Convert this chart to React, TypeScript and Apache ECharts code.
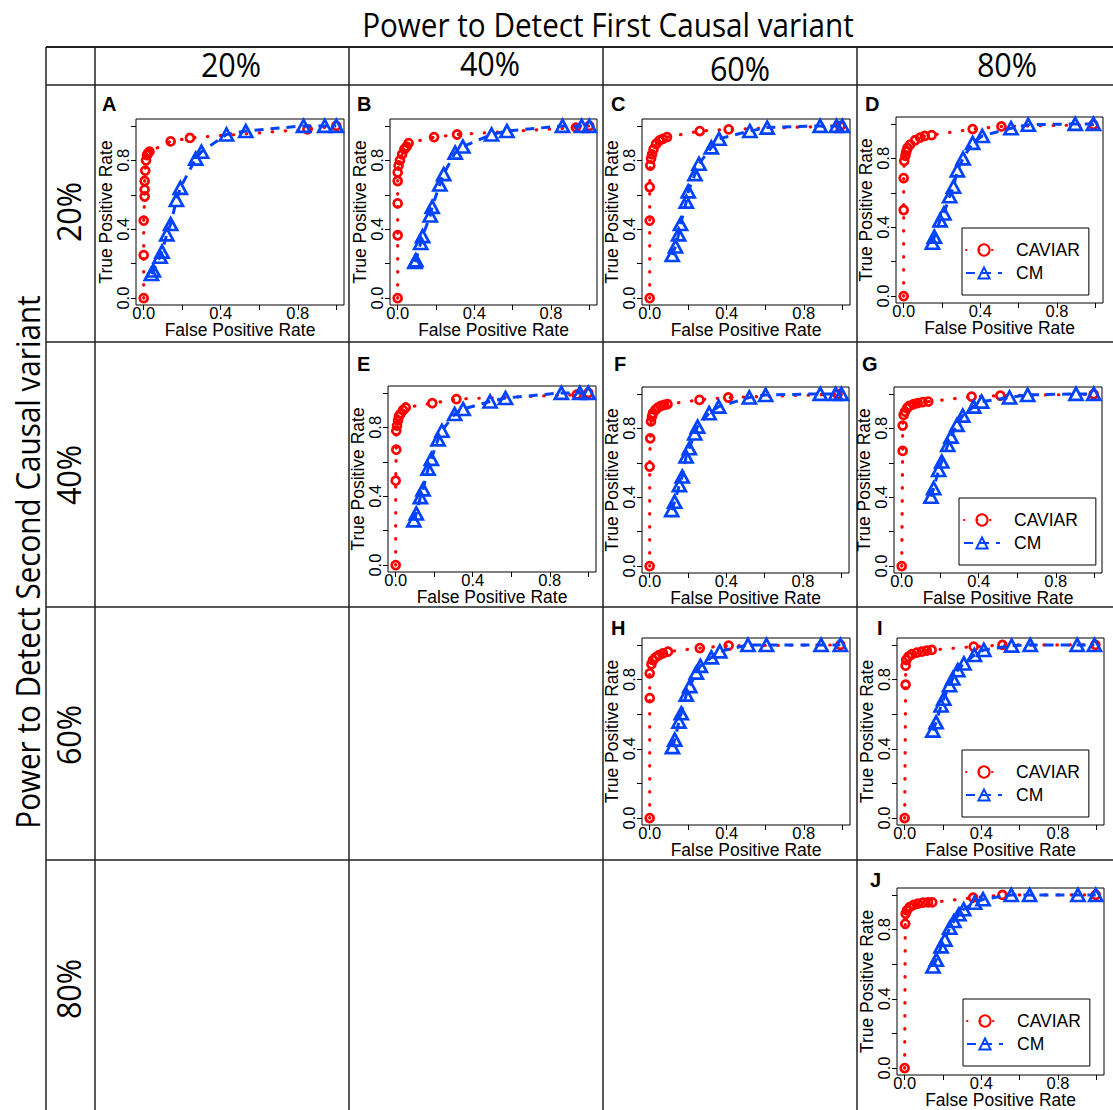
import React, { useEffect, useRef } from 'react';
import * as echarts from 'echarts';

// ---------- data ----------
const colHeaders = ['20%', '40%', '60%', '80%'];
const rowHeaders = ['20%', '40%', '60%', '80%'];
const seriesNames = ['CAVIAR', 'CM'];
const tickValues = [0, 0.2, 0.4, 0.6, 0.8, 1.0];
const tickLabelValues = [0, 0.4, 0.8];
const topTitle = 'Power to Detect First Causal variant';
const sideTitle = 'Power to Detect Second Causal variant';
const xName = 'False Positive Rate';
const yName = 'True Positive Rate';

const caviarA = [[0,0],[0,0.25],[0,0.45],[0.005,0.59],[0.005,0.63],[0.005,0.68],[0.008,0.74],[0.012,0.80],[0.017,0.83],[0.022,0.84],[0.03,0.85],[0.14,0.91],[0.24,0.93],[0.85,0.98],[1,1]];
const cmA = [[0.04,0.14],[0.05,0.16],[0.085,0.24],[0.095,0.27],[0.12,0.37],[0.14,0.43],[0.17,0.57],[0.19,0.64],[0.27,0.81],[0.30,0.85],[0.43,0.95],[0.53,0.97],[0.83,1.0],[0.94,1.0],[1,1]];

const caviarB = [[0,0],[0,0.365],[0,0.55],[0,0.68],[0,0.73],[0.005,0.77],[0.012,0.80],[0.023,0.835],[0.035,0.865],[0.047,0.88],[0.057,0.90],[0.19,0.935],[0.31,0.95],[0.93,0.99],[1,1]];
const cmB = [[0.09,0.21],[0.095,0.22],[0.12,0.32],[0.13,0.36],[0.17,0.48],[0.18,0.53],[0.22,0.66],[0.24,0.72],[0.30,0.845],[0.34,0.88],[0.49,0.95],[0.57,0.97],[0.86,1.0],[0.96,1.0],[1,1]];

const caviarC = [[0,0],[0,0.45],[0,0.645],[0.003,0.77],[0.007,0.81],[0.012,0.835],[0.02,0.865],[0.033,0.895],[0.05,0.915],[0.068,0.925],[0.09,0.935],[0.26,0.97],[0.41,0.98],[0.99,1.0]];
const cmC = [[0.117,0.25],[0.134,0.30],[0.15,0.37],[0.16,0.43],[0.19,0.56],[0.20,0.62],[0.235,0.72],[0.256,0.78],[0.32,0.875],[0.36,0.925],[0.52,0.97],[0.61,0.99],[0.885,1.0],[0.97,1.0],[1,1]];

const caviarD = [[0,0],[0,0.50],[0,0.685],[0.003,0.785],[0.009,0.815],[0.014,0.84],[0.02,0.86],[0.034,0.88],[0.06,0.905],[0.086,0.92],[0.11,0.93],[0.146,0.935],[0.36,0.97],[0.51,0.985],[0.99,0.995]];
const cmD = [[0.15,0.31],[0.16,0.345],[0.19,0.44],[0.21,0.48],[0.24,0.58],[0.26,0.635],[0.28,0.73],[0.31,0.80],[0.36,0.89],[0.41,0.93],[0.56,0.975],[0.65,0.995],[0.895,1.0],[0.99,1.0]];

const caviarE = [[0,0],[0,0.49],[0.003,0.67],[0.003,0.78],[0.007,0.81],[0.012,0.84],[0.017,0.865],[0.026,0.88],[0.038,0.90],[0.052,0.915],[0.19,0.94],[0.315,0.964],[0.94,0.99],[1,1]];
const cmE = [[0.094,0.26],[0.107,0.30],[0.128,0.395],[0.142,0.44],[0.168,0.56],[0.185,0.617],[0.22,0.73],[0.24,0.78],[0.306,0.877],[0.35,0.906],[0.49,0.95],[0.57,0.97],[0.86,1.0],[0.956,1.0],[1,1]];

const caviarF = [[0,0],[0,0.578],[0.003,0.742],[0.007,0.84],[0.012,0.868],[0.017,0.888],[0.03,0.907],[0.043,0.92],[0.059,0.93],[0.076,0.936],[0.093,0.94],[0.26,0.965],[0.41,0.979],[0.98,0.998]];
const cmF = [[0.115,0.325],[0.13,0.374],[0.155,0.47],[0.17,0.52],[0.19,0.636],[0.207,0.684],[0.235,0.77],[0.25,0.81],[0.31,0.888],[0.36,0.926],[0.52,0.979],[0.605,0.994],[0.89,1.0],[0.97,1.0],[1,1]];

const caviarG = [[0,0],[0.005,0.669],[0.005,0.816],[0.01,0.878],[0.017,0.897],[0.028,0.917],[0.04,0.93],[0.062,0.94],[0.083,0.946],[0.109,0.952],[0.138,0.955],[0.363,0.984],[0.512,0.99],[0.997,0.998]];
const cmG = [[0.152,0.403],[0.166,0.452],[0.192,0.558],[0.208,0.607],[0.239,0.703],[0.256,0.752],[0.287,0.82],[0.317,0.874],[0.374,0.926],[0.415,0.955],[0.56,0.979],[0.654,0.994],[0.905,1.0],[0.997,1.0]];

const caviarH = [[0,0],[0,0.693],[0,0.836],[0.009,0.889],[0.017,0.912],[0.031,0.928],[0.048,0.941],[0.069,0.951],[0.095,0.961],[0.26,0.982],[0.41,0.996],[0.99,1.0]];
const cmH = [[0.118,0.41],[0.13,0.453],[0.152,0.557],[0.164,0.605],[0.19,0.713],[0.208,0.762],[0.242,0.84],[0.263,0.879],[0.32,0.928],[0.364,0.963],[0.51,1.0],[0.606,1.0],[0.89,1.0],[0.99,1.0]];

const caviarI = [[0,0],[0.005,0.77],[0.005,0.88],[0.008,0.913],[0.02,0.932],[0.037,0.946],[0.063,0.955],[0.089,0.961],[0.115,0.967],[0.141,0.971],[0.36,0.99],[0.51,1.0],[0.995,1.0]];
const cmI = [[0.147,0.505],[0.164,0.553],[0.19,0.65],[0.204,0.689],[0.234,0.767],[0.251,0.806],[0.277,0.854],[0.309,0.893],[0.364,0.942],[0.413,0.971],[0.558,0.996],[0.655,1.0],[0.9,1.0],[0.99,1.0]];

const caviarJ = [[0,0],[0.003,0.833],[0.005,0.891],[0.012,0.911],[0.026,0.93],[0.047,0.942],[0.07,0.95],[0.096,0.955],[0.122,0.957],[0.144,0.957],[0.357,0.984],[0.51,1.0],[0.997,1.0]];
const cmJ = [[0.148,0.587],[0.165,0.626],[0.19,0.703],[0.21,0.742],[0.235,0.81],[0.257,0.849],[0.283,0.888],[0.308,0.917],[0.365,0.955],[0.409,0.975],[0.556,1.0],[0.652,1.0],[0.904,1.0],[0.997,1.0]];

const panelIds = ['A','B','C','D','E','F','G','H','I','J'];
const caviarData: Record<string, number[][]> = { A: caviarA, B: caviarB, C: caviarC, D: caviarD, E: caviarE, F: caviarF, G: caviarG, H: caviarH, I: caviarI, J: caviarJ };
const cmData: Record<string, number[][]> = { A: cmA, B: cmB, C: cmC, D: cmD, E: cmE, F: cmF, G: cmG, H: cmH, I: cmI, J: cmJ };
const legendPanels = ['D', 'G', 'I', 'J'];

// ---------- layout (pixels) ----------
const boxes: Record<string, { L: number; T: number; R: number; B: number; lx: number; ly: number }> = {
  A: { L: 136, T: 119, R: 344, B: 305, lx: 102, ly: 104 },
  B: { L: 390, T: 119, R: 597, B: 305, lx: 357, ly: 104 },
  C: { L: 642, T: 119, R: 850, B: 305, lx: 611, ly: 104 },
  D: { L: 896, T: 117, R: 1103, B: 303, lx: 865, ly: 104 },
  E: { L: 388, T: 386, R: 596, B: 572, lx: 357, ly: 364 },
  F: { L: 642, T: 387, R: 849, B: 573, lx: 614, ly: 364 },
  G: { L: 894, T: 387, R: 1102, B: 573, lx: 862, ly: 364 },
  H: { L: 642, T: 638, R: 850, B: 825, lx: 611, ly: 628 },
  I: { L: 897, T: 638, R: 1104, B: 825, lx: 877, ly: 628 },
  J: { L: 897, T: 888, R: 1104, B: 1075, lx: 870, ly: 880 },
};
const legendBoxes: Record<string, { left: number; top: number; pad: number[] }> = {
  D: { left: 962, top: 228, pad: [13, 9, 13, 3] },
  G: { left: 959, top: 498, pad: [13, 18, 13, 4] },
  I: { left: 962, top: 750, pad: [13, 9, 13, 3] },
  J: { left: 963, top: 999, pad: [13, 9, 13, 3] },
};

const FONT = 'Liberation Sans, Arial, Helvetica, sans-serif';
const TITLE_FONT = 'Open Sans, sans-serif';
const RED = '#ff0000';
const BLUE = '#0043ff';
const LINE_COLOR = '#222';

function buildOption() {
  const grid: any[] = [];
  const xAxis: any[] = [];
  const yAxis: any[] = [];
  const series: any[] = [];
  panelIds.forEach((id, i) => {
    const b = boxes[id];
    grid.push({
      left: b.L, top: b.T, width: b.R - b.L, height: b.B - b.T,
      show: true, borderColor: '#000', borderWidth: 1, backgroundColor: 'transparent',
      containLabel: false, outerBoundsMode: 'none',
    });
    const common = {
      gridIndex: i, type: 'value', min: -0.04, max: 1.04,
      nameLocation: 'middle', nameMoveOverlap: false,
      nameTextStyle: { fontSize: 17.5, fontFamily: FONT, color: '#000' },
      axisLine: { show: false, onZero: false },
      splitLine: { show: false },
      axisTick: { show: true, length: 5, lineStyle: { color: '#000', width: 1 }, customValues: tickValues },
    };
    xAxis.push({
      ...common, name: xName, nameGap: 15.5,
      axisLabel: { customValues: tickLabelValues, margin: -1, fontSize: 16.5, color: '#000', fontFamily: FONT, formatter: (v: number) => v.toFixed(1) },
    });
    yAxis.push({
      ...common, name: yName, nameGap: 21,
      axisLabel: { customValues: tickLabelValues, margin: 5, rotate: 90, fontSize: 16.5, color: '#000', fontFamily: FONT, formatter: (v: number) => v.toFixed(1) },
    });
    series.push({
      name: seriesNames[0], type: 'line', xAxisIndex: i, yAxisIndex: i,
      data: caviarData[id], symbol: 'circle', symbolSize: 8, showSymbol: true,
      itemStyle: { color: 'rgba(255,255,255,0)', borderColor: RED, borderWidth: 2.7 },
      lineStyle: { color: RED, width: 3.2, type: [0.5, 12.5], cap: 'round' },
      emphasis: { disabled: true }, z: 2,
    });
    series.push({
      name: seriesNames[1], type: 'line', xAxisIndex: i, yAxisIndex: i,
      data: cmData[id], symbol: 'triangle', symbolSize: [13, 12], showSymbol: true,
      itemStyle: { color: 'rgba(255,255,255,0)', borderColor: BLUE, borderWidth: 2.7 },
      lineStyle: { color: BLUE, width: 3, type: [9, 7] },
      emphasis: { disabled: true }, z: 3,
    });
  });

  const legend = legendPanels.map((id) => {
    const lb = legendBoxes[id];
    return {
      data: seriesNames, orient: 'vertical', left: lb.left, top: lb.top,
      padding: lb.pad, itemGap: 5, itemWidth: 36, itemHeight: 14,
      borderColor: '#000', borderWidth: 1, backgroundColor: '#fff',
      textStyle: { fontSize: 17.5, fontFamily: FONT, color: '#000', padding: [0, 0, 0, 9], lineHeight: 17 },
      selectedMode: false,
    };
  });

  const g: any[] = [];
  const hLines = [47, 85, 342, 607, 860];
  hLines.forEach((y, k) => g.push({ type: 'line', shape: { x1: 46, y1: y, x2: 1113, y2: y }, style: { stroke: LINE_COLOR, lineWidth: k === 0 ? 2 : 1.5 }, silent: true }));
  const vLines = [46, 95, 349, 603, 857];
  vLines.forEach((x) => g.push({ type: 'line', shape: { x1: x, y1: 47, x2: x, y2: 1110 }, style: { stroke: LINE_COLOR, lineWidth: 1.5 }, silent: true }));

  g.push({ type: 'text', x: 608, y: 25, scaleX: 0.927, style: { text: topTitle, fontSize: 32, fontFamily: TITLE_FONT, fill: '#000', textAlign: 'center', textVerticalAlign: 'middle' } });
  g.push({ type: 'text', x: 28, y: 562, rotation: Math.PI / 2, scaleX: 0.927, style: { text: sideTitle, fontSize: 32, fontFamily: TITLE_FONT, fill: '#000', textAlign: 'center', textVerticalAlign: 'middle' } });
  const colCx = [231, 490, 740, 1007];
  const colCy = [64, 63, 68, 64];
  colHeaders.forEach((t, k) => g.push({ type: 'text', x: colCx[k], y: colCy[k], scaleX: 0.927, style: { text: t, fontSize: 33, fontFamily: TITLE_FONT, fill: '#000', textAlign: 'center', textVerticalAlign: 'middle' } }));
  const rowCy = [212, 475, 735, 989];
  rowHeaders.forEach((t, k) => g.push({ type: 'text', x: 68, y: rowCy[k], rotation: Math.PI / 2, scaleX: 0.927, style: { text: t, fontSize: 33, fontFamily: TITLE_FONT, fill: '#000', textAlign: 'center', textVerticalAlign: 'middle' } }));
  panelIds.forEach((id) => {
    const b = boxes[id];
    g.push({ type: 'text', x: b.lx, y: b.ly, style: { text: id, fontSize: 20, fontWeight: 'bold', fontFamily: FONT, fill: '#000', textAlign: 'left', textVerticalAlign: 'middle' } });
  });

  return {
    animation: false,
    backgroundColor: '#fff',
    grid, xAxis, yAxis, series, legend,
    graphic: { elements: g },
  };
}

export default function App() {
  const ref = useRef<HTMLDivElement>(null);
  useEffect(() => {
    if (!ref.current) return;
    const chart = echarts.init(ref.current, null, { renderer: 'svg' });
    chart.setOption(buildOption() as any);
    return () => chart.dispose();
  }, []);
  return <div ref={ref} style={{ position: 'absolute', left: 0, top: 0, width: 1113, height: 1110, background: '#fff' }} />;
}
